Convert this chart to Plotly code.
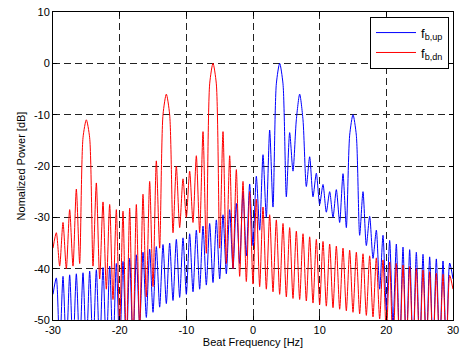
import plotly.graph_objects as go

# Frequency bins [Hz]
FREQ_HZ = [-30, -29.5, -29, -28.5, -28, -27.5, -27, -26.5, -26, -25.5, -25, -24.5, -24, -23.5, -23, -22.5,
           -22, -21.5, -21, -20.5, -20, -19.5, -19, -18.5, -18, -17.5, -17, -16.5, -16, -15.5, -15, -14.5,
           -14, -13.5, -13, -12.5, -12, -11.5, -11, -10.5, -10, -9.5, -9, -8.5, -8, -7.5, -7, -6.5,
           -6, -5.5, -5, -4.5, -4, -3.5, -3, -2.5, -2, -1.5, -1, -0.5, 0, 0.5, 1, 1.5,
           2, 2.5, 3, 3.5, 4, 4.5, 5, 5.5, 6, 6.5, 7, 7.5, 8, 8.5, 9, 9.5,
           10, 10.5, 11, 11.5, 12, 12.5, 13, 13.5, 14, 14.5, 15, 15.5, 16, 16.5, 17, 17.5,
           18, 18.5, 19, 19.5, 20, 20.5, 21, 21.5, 22, 22.5, 23, 23.5, 24, 24.5, 25, 25.5,
           26, 26.5, 27, 27.5, 28, 28.5, 29, 29.5, 30]

# f_b,up spectrum [dB]
P_UP = [-45, -41.8, -56, -41.5, -56, -41.2, -56, -41, -56, -40.8, -56, -40.5, -56, -40.2, -56, -39.8,
        -56, -39.5, -56, -39, -56, -38.6, -56, -38, -55, -37.3, -51, -36.8, -49.5, -36.2, -48.5, -35.7,
        -47.5, -35.3, -46.8, -35, -46.2, -34.3, -45.6, -34, -45, -33.2, -44.5, -32.5, -44, -31.7, -43.2, -31.2,
        -42.7, -30.5, -42, -29.5, -41, -28.5, -40, -27.3, -39, -25, -37.5, -23.5, -35.5, -22, -32.5, -17.8,
        -30, -13, -28, -4, 0, -4, -26, -13.5, -21, -11, -6, -11, -24, -18.2, -26, -21.4,
        -27.5, -23.6, -29, -25, -30, -24.6, -31, -21.5, -32, -14, -10, -14, -33.5, -25, -35.5, -29.8,
        -38, -32.5, -44, -33.5, -48, -34.5, -51, -35.2, -56, -35.8, -56, -36.3, -56, -36.8, -56, -37.2,
        -56, -37.7, -56, -38.1, -56, -38.5, -56, -38.9, -42]

# f_b,dn spectrum [dB]
P_DN = [-36, -33, -39.5, -31, -40, -28.5, -39.5, -24.5, -39, -14.5, -11, -14.5, -39.5, -23.3, -42, -27,
        -44, -27.5, -46, -28.5, -51, -28.8, -56, -28.2, -56, -27.5, -52, -25.5, -45.5, -23, -43.5, -19,
        -36, -10, -6, -10, -33, -20, -32, -22.5, -30, -21, -31, -18, -33, -13.3, -37, -4,
        0, -4, -36, -13.3, -39, -18, -40, -20.7, -41.5, -23, -42.5, -25, -43, -26.5, -43.5, -28,
        -44, -29.5, -44.5, -30.5, -45, -31.2, -45.5, -32, -45.8, -32.7, -46, -33.2, -46.3, -33.8, -46.7, -34.3,
        -47, -34.7, -47.3, -35.2, -47.6, -35.6, -47.9, -36, -48.2, -36.4, -48.5, -36.8, -48.8, -37.1, -49.1, -37.5,
        -49.4, -37.9, -49.8, -38.3, -53, -38.7, -56, -39, -56, -39.3, -56, -39.6, -56, -40, -56, -40.3,
        -56, -40.6, -56, -40.9, -56, -41.1, -56, -41.3, -44]

X_TICKS = [-30, -20, -10, 0, 10, 20, 30]
X_TICK_TEXT = ["-30", "-20", "-10", "0", "10", "20", "30"]
Y_TICKS = [10, 0, -10, -20, -30, -40, -50]
Y_TICK_TEXT = ["10", "0", "-10", "-20", "-30", "-40", "-50"]

FONT = "Liberation Sans, Arial, sans-serif"

fig = go.Figure()
fig.add_trace(go.Scatter(x=FREQ_HZ, y=P_UP, mode="lines", name="f<sub>b,up</sub>",
                         line=dict(color="#0000ff", width=1, shape="spline", smoothing=0.7)))
fig.add_trace(go.Scatter(x=FREQ_HZ, y=P_DN, mode="lines", name="f<sub>b,dn</sub>",
                         line=dict(color="#ff0000", width=1, shape="spline", smoothing=0.7)))

axis_common = dict(
    showline=True, linecolor="black", linewidth=1, mirror="ticks",
    ticks="inside", ticklen=4, tickcolor="black",
    showgrid=True, gridcolor="#222222", gridwidth=1, griddash="7px,4px",
    zeroline=False, tickfont=dict(family=FONT, size=11, color="black"),
    tickmode="array", automargin=False,
)

fig.update_layout(
    width=460, height=356,
    margin=dict(l=53, r=7, t=12, b=36),
    paper_bgcolor="white", plot_bgcolor="white",
    font=dict(family=FONT, size=11, color="black"),
    xaxis=dict(range=[-30, 30], tickvals=X_TICKS, ticktext=X_TICK_TEXT,
               title=dict(text="Beat Frequency [Hz]", standoff=3, font=dict(size=11)),
               **axis_common),
    yaxis=dict(range=[-50, 10], tickvals=Y_TICKS, ticktext=Y_TICK_TEXT,
               title=dict(text="Nomalized Power [dB]", standoff=6, font=dict(size=11)),
               **axis_common),
    legend=dict(x=0.99, y=0.985, xanchor="right", yanchor="top",
                bgcolor="white", bordercolor="black", borderwidth=1,
                font=dict(family=FONT, size=13, color="black"),
                tracegroupgap=2, itemwidth=40),
    showlegend=True,
)

# Remove the default page margin so the figure sits at the window origin.
fig.write_html("out.html", config={"displayModeBar": False},
               post_script="document.body.style.margin='0px';")
